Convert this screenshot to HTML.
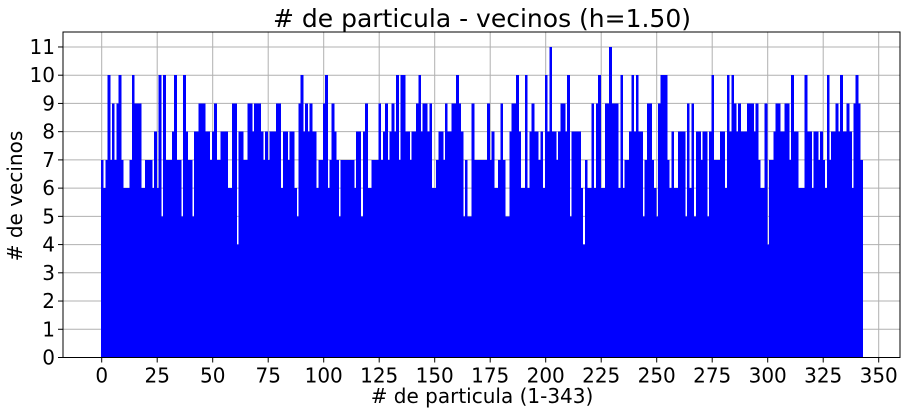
<!DOCTYPE html>
<html><head><meta charset="utf-8"><style>
body{margin:0;background:#fff;}
svg text{font-family:"DejaVu Sans","Liberation Sans",sans-serif;fill:#000;}
</style></head><body>
<svg id="chart" width="910" height="414">
<rect x="0" y="0" width="910" height="414" fill="#fff"/>
<text x="482" y="27" font-size="25" text-anchor="middle"># de particula - vecinos (h=1.50)</text>
<g id="grid"></g><g id="bars" shape-rendering="crispEdges"></g><g id="axes"></g>
<text x="482" y="403" font-size="20" text-anchor="middle"># de particula (1-343)</text>
<text transform="translate(22,196) rotate(-90)" font-size="20" text-anchor="middle"># de vecinos</text>
</svg>
<script>
const values = [7,6,7,10,7,9,7,9,10,7,6,6,6,7,10,9,9,9,6,6,7,7,7,6,8,6,10,5,10,7,7,7,8,10,7,7,5,10,8,7,7,5,8,8,9,9,9,8,8,7,8,9,7,7,8,8,8,
6,6,9,9,4,8,8,7,7,9,9,8,9,9,9,8,7,8,7,8,8,8,9,9,6,8,8,7,8,8,6,5,9,10,8,9,8,9,8,8,6,7,7,9,10,6,7,9,8,7,5,7,7,7,7,7,7,
6,8,8,5,8,9,6,6,7,7,7,9,7,8,9,7,8,9,8,10,7,10,10,8,8,7,8,8,9,10,8,9,9,8,9,6,6,7,8,8,7,9,8,8,9,9,10,9,8,5,7,5,5,9,7,7,7,7,
7,7,9,7,8,6,6,7,9,7,5,5,8,9,9,10,8,6,6,10,6,8,9,8,8,7,8,6,10,8,11,8,8,7,8,9,9,8,10,5,8,8,8,8,6,4,7,6,6,9,6,9,10,6,6,9,
9,11,9,9,9,6,10,6,7,7,8,10,8,10,8,8,5,7,9,9,7,6,5,9,10,10,10,7,6,8,6,6,8,8,8,5,9,6,9,5,8,8,7,8,8,5,8,10,7,7,7,8,8,6,10,8,10,9,8,9,
8,8,8,9,9,9,8,9,7,6,6,9,4,7,7,8,9,9,8,8,9,9,7,10,8,8,6,6,6,10,8,8,6,8,8,7,8,7,6,10,7,8,8,9,8,10,8,8,9,8,6,9,10,9,7];
const xTicks = [0,25,50,75,100,125,150,175,200,225,250,275,300,325,350];
const yTicks = [0,1,2,3,4,5,6,7,8,9,10,11];
const NS="http://www.w3.org/2000/svg";
const L=63,R=900,T=32,B=357.5;
const sx=v=>101.7+v*2.22;
const sy=v=>357.5-v*28.23;
const grid=document.getElementById('grid'),bars=document.getElementById('bars'),axes=document.getElementById('axes');
function mk(tag,attrs,parent){const e=document.createElementNS(NS,tag);for(const k in attrs)e.setAttribute(k,attrs[k]);parent.appendChild(e);return e;}
xTicks.forEach(t=>{
  const l=mk('line',{x1:sx(t),x2:sx(t),y1:T,y2:B,stroke:'#b0b0b0','stroke-width':1},grid);
  
  
  mk('line',{x1:sx(t),x2:sx(t),y1:B,y2:B+5,stroke:'#000'},axes);
  const tx=mk('text',{x:sx(t),y:B+25,'font-size':20,'text-anchor':'middle'},axes);
  tx.textContent=t;
  
  
});
yTicks.forEach(t=>{
  const l=mk('line',{x1:L,x2:R,y1:sy(t),y2:sy(t),stroke:'#b0b0b0','stroke-width':1},grid);
  
  
  mk('line',{x1:L-5,x2:L,y1:sy(t),y2:sy(t),stroke:'#000'},axes);
  const tx=mk('text',{x:L-8,y:sy(t)+7,'font-size':20,'text-anchor':'end'},axes);
  tx.textContent=t;
  
  
});
values.forEach((v,i)=>{
  const r=mk('rect',{x:sx(i-0.4),y:sy(v),width:2.8,height:sy(0)-sy(v),fill:'#0000ff'},bars);
  
  
});
const f=mk('rect',{x:L,y:T,width:R-L,height:B-T,fill:'none',stroke:'#000','stroke-width':1},axes);


</script>
</body></html>
